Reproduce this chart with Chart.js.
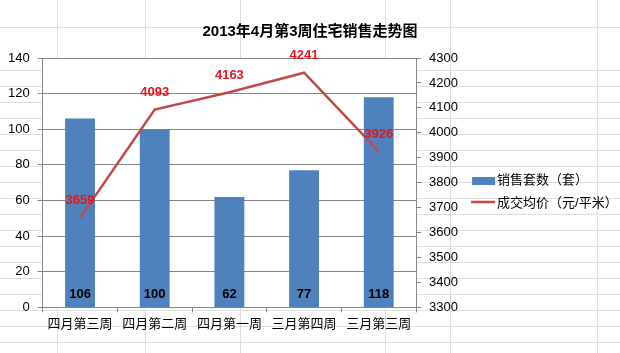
<!DOCTYPE html>
<html>
<head>
<meta charset="utf-8">
<script src="https://cdn.jsdelivr.net/npm/chart.js@4.4.0/dist/chart.umd.min.js"></script>
<style>
  html, body { margin: 0; padding: 0; background: #fff; }
</style>
</head>
<body>
<canvas id="grafico" width="620" height="353"></canvas>
<script>
var semanas = ["四月第三周", "四月第二周", "四月第一周", "三月第四周", "三月第三周"];
var vendas = [106, 100, 62, 77, 118];
var precoMedio = [3659, 4093, 4163, 4241, 3926];
var nomesSeries = ["销售套数（套）", "成交均价（元/平米）"];

var corBarra = "#4f81bd";
var corLinha = "#be4b48";
var corEixo = "#868686";
var fonte = "'Liberation Sans', 'Noto Sans CJK SC', sans-serif";

// fundo de planilha (linhas do excel atras do grafico)
var fundoPlanilha = {
  id: "fundoPlanilha",
  beforeDraw: function (chart) {
    var c = chart.ctx;
    var a = chart.chartArea;
    c.save();
    c.fillStyle = "#fff";
    c.fillRect(0, 0, chart.width, chart.height);
    c.strokeStyle = "#dcdee0";
    c.lineWidth = 1;
    var linhas = [27];
    for (var y = 70; y < chart.height; y += 16) {
      linhas.push(y);
    }
    var colunas = [57, 145, 240, 385, 450, 597];
    c.beginPath();
    for (var i = 0; i < linhas.length; i++) {
      c.moveTo(0, linhas[i] + 0.5);
      c.lineTo(chart.width, linhas[i] + 0.5);
    }
    for (var j = 0; j < colunas.length; j++) {
      c.moveTo(colunas[j] + 0.5, 0);
      c.lineTo(colunas[j] + 0.5, chart.height);
    }
    c.stroke();
    c.fillStyle = "#fff";
    c.fillRect(a.left, a.top, a.right - a.left, a.bottom - a.top);
    c.restore();
  }
};

var rotulos = {
  id: "rotulos",
  afterDatasetsDraw: function (chart) {
    var c = chart.ctx;
    c.save();
    c.textAlign = "center";
    c.textBaseline = "middle";
    c.font = "bold 13px " + fonte;

    c.fillStyle = "#000";
    chart.getDatasetMeta(1).data.forEach(function (barra, i) {
      c.fillText(vendas[i], barra.x, chart.chartArea.bottom - 13);
    });

    c.fillStyle = "#e0161e";
    chart.getDatasetMeta(0).data.forEach(function (ponto, i) {
      c.fillText(precoMedio[i], ponto.x, ponto.y - 17);
    });
    c.restore();
  }
};

var legenda = {
  id: "legenda",
  afterDraw: function (chart) {
    var c = chart.ctx;
    var x = chart.chartArea.right + 56;
    c.save();
    c.fillStyle = corBarra;
    c.fillRect(x, 177, 23, 8);
    c.strokeStyle = corLinha;
    c.lineWidth = 2.5;
    c.beginPath();
    c.moveTo(x - 1, 202);
    c.lineTo(x + 23, 202);
    c.stroke();
    c.fillStyle = "#000";
    c.font = "13px " + fonte;
    c.textBaseline = "middle";
    c.fillText(nomesSeries[0], x + 25, 180);
    c.fillText(nomesSeries[1], x + 25, 203);
    c.restore();
  }
};

var ctx = document.getElementById("grafico").getContext("2d");

var grafico = new Chart(ctx, {
  type: "bar",
  data: {
    labels: semanas,
    datasets: [{
      type: "line",
      label: nomesSeries[1],
      data: precoMedio,
      yAxisID: "y1",
      borderColor: corLinha,
      backgroundColor: corLinha,
      borderWidth: 2.5,
      pointRadius: 0,
      tension: 0,
      order: 1
    }, {
      type: "bar",
      label: nomesSeries[0],
      data: vendas,
      yAxisID: "y",
      backgroundColor: corBarra,
      categoryPercentage: 1,
      barPercentage: 0.4,
      order: 2
    }]
  },
  options: {
    responsive: false,
    animation: false,
    layout: { padding: { left: 0, right: 0, top: 0, bottom: 17 } },
    plugins: {
      legend: { display: false },
      tooltip: { enabled: false },
      title: {
        display: true,
        text: "2013年4月第3周住宅销售走势图",
        color: "#000",
        font: { size: 15, weight: "bold", family: fonte },
        padding: { top: 23, bottom: 17 }
      }
    },
    scales: {
      x: {
        grid: { offset: true, drawOnChartArea: false, color: corEixo, tickLength: 5 },
        border: { color: corEixo },
        ticks: { color: "#000", padding: 4, font: { size: 13, family: fonte } }
      },
      y: {
        position: "left",
        min: 0,
        max: 140,
        ticks: { stepSize: 20, padding: 8, color: "#000", font: { size: 13, family: fonte } },
        grid: { color: corEixo, tickLength: 5 },
        border: { color: corEixo }
      },
      y1: {
        position: "right",
        min: 3300,
        max: 4300,
        // espaco extra a direita para a legenda
        afterFit: function (escala) { escala.width += 154; },
        ticks: {
          stepSize: 100,
          padding: 8,
          color: "#000",
          font: { size: 13, family: fonte },
          callback: function (valor) { return String(valor); }
        },
        grid: { drawOnChartArea: false, color: corEixo, tickLength: 5 },
        border: { color: corEixo }
      }
    }
  },
  plugins: [fundoPlanilha, rotulos, legenda]
});
</script>
</body>
</html>
